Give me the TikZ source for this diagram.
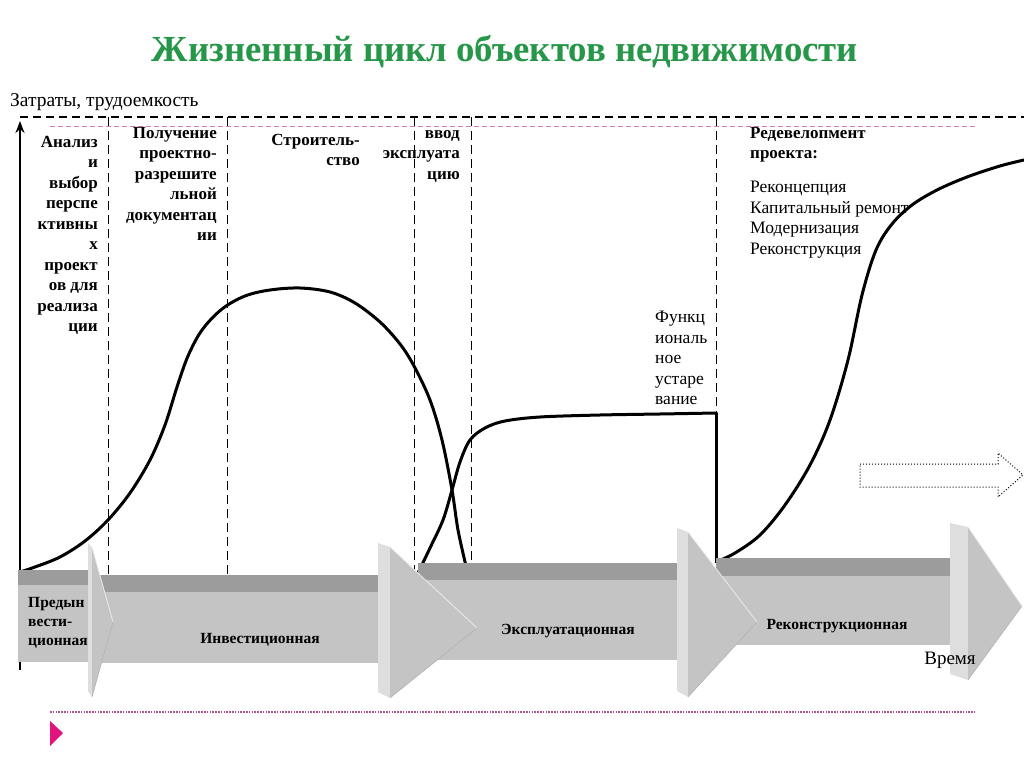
\documentclass[tikz,border=0pt]{standalone}
\usepackage{fontspec}
\setmainfont{Liberation Serif}
\usetikzlibrary{arrows.meta}
\definecolor{titlegreen}{RGB}{38,150,72}
\definecolor{pinkline}{RGB}{215,120,170}
\definecolor{pinkdot}{RGB}{175,85,135}
\definecolor{magentatri}{RGB}{225,20,125}
\definecolor{arrtop}{RGB}{156,156,156}
\definecolor{arrfront}{RGB}{196,196,196}
\definecolor{arrside}{RGB}{222,222,222}
% #1 xl, #2 yt, #3 yf, #4 yb, #5 xs, #6 w, #7 yht, #8 yhb, #9 tip
\newcommand\threedarrow[9]{%
  \fill[arrtop] (#1,#2) -- (#5,#2) -- ({#5+#6},#3) -- (#1,#3) -- cycle;
  \fill[arrfront] (#1,#3) rectangle ({#5+#6},#4);
  \fill[arrside] (#5,#7) -- ({#5+#6},{#7+4}) -- ({#5+#6},#8) -- (#5,{#8-6}) -- cycle;
  \fill[arrfront] ({#5+#6},{#7+4}) -- #9 -- ({#5+#6},#8) -- cycle;
  \draw[arrside!60!white, line width=0.8pt] ({#5+#6},{#7+4}) -- #9;
  \draw[arrtop!80!white, line width=0.5pt] #9 -- ({#5+#6},#8);
}
\begin{document}
\begin{tikzpicture}[x=1pt,y=-1pt,
  colhead/.style={font=\fontsize{17}{20.5}\selectfont\bfseries, align=right, inner sep=0pt},
  plaintxt/.style={font=\fontsize{17.5}{20.5}\selectfont, align=left, inner sep=0pt},
  arrlabel/.style={font=\fontsize{15.5}{19}\selectfont\bfseries, inner sep=0pt},
  vdash/.style={black, line width=1pt, dash pattern=on 9pt off 5pt},
  curve/.style={black, line width=3pt, line join=round, line cap=round}]
\useasboundingbox (0,0) rectangle (1024,767);
\fill[white] (0,0) rectangle (1024,767);

% title
\node[inner sep=0pt, text=titlegreen] (title) at (505,52)
  {\resizebox{706pt}{!}{\bfseries Жизненный цикл объектов недвижимости}};
\node[anchor=west, inner sep=0pt, font=\fontsize{19.5}{21}\selectfont] (ylabel) at (10,102)
  {Затраты, трудоемкость};

% horizontal guide lines
\draw[black, line width=1.3pt, dash pattern=on 8pt off 5pt] (20,117) -- (1024,117);
\draw[pinkline, line width=0.8pt, dash pattern=on 5pt off 3pt] (50,126) -- (975,126);

% vertical dashed separators
\draw[vdash] (108,117) -- (108,600);
\draw[vdash] (227,117) -- (227,600);
\draw[vdash] (414,117) -- (414,600);
\draw[vdash] (471,117) -- (471,600);
\draw[vdash] (716,117) -- (716,413);

% curves
\draw[curve] plot[smooth, tension=0.55] coordinates {(20,572) (35,567) (60,557) (85,541) (108,520) (130,493) (150,460) (165,425) (177,387) (188,356) (202,330) (222,309) (245,296) (270,290) (300,288) (330,292) (355,303) (380,322) (400,344) (414,366) (430,400) (442,440) (452,490) (458,530) (466,566)};
\draw[curve] plot[smooth, tension=0.55] coordinates {(418,573) (430,548) (443,520) (452,490) (460,462) (470,440) (485,428) (505,421) (540,417) (600,415) (660,414) (716,413)};
\draw[curve] (716,413) -- (716,562);
\draw[curve] plot[smooth, tension=0.55] coordinates {(716,562) (735,553) (760,535) (785,505) (810,465) (830,420) (848,360) (862,295) (876,250) (892,224) (912,205) (937,190) (967,177) (1000,166) (1024,160)};

% vertical axis
\draw[black, line width=2pt, -{Stealth[length=12pt,width=9pt]}] (20,670) -- (20,121);

% 3D stage arrows (back to front)
\threedarrow{716}{558}{576}{645}{950}{18}{523}{680}{(1022,606)}
\threedarrow{418}{563}{580}{660}{677}{11}{528}{697}{(757,622)}
\threedarrow{100}{575}{592}{663}{378}{12}{543}{698}{(477,628)}
\threedarrow{18}{570}{585}{662}{88}{4}{543}{697}{(113,622)}

% dotted outline arrow
\draw[black, line width=1pt, dotted, line join=miter] (860,464) -- (998,464) -- (998,453) -- (1023,475) -- (998,497) -- (998,487) -- (860,487) -- cycle;

% column headings
\node[colhead, anchor=north east] (c1) at (98,136)
  {Анализ\\и\\выбор\\перспе\\ктивны\\х\\проект\\ов для\\реализа\\ции};
\node[colhead, anchor=north east] (c2) at (217,127)
  {Получение\\проектно-\\разрешите\\льной\\документац\\ии};
\node[colhead, anchor=north east] (c3) at (360,134)
  {Строитель-\\ство};
\node[colhead, anchor=north east] (c4) at (460,130)
  {ввод\\эксплуата\\цию};
\node[colhead, align=left, anchor=north west] (c5) at (750,127)
  {Редевелопмент\\проекта:};
\node[plaintxt, anchor=north west] (c5list) at (750,181)
  {Реконцепция\\Капитальный ремонт\\Модернизация\\Реконструкция};
\node[plaintxt, anchor=north west] (obsol) at (655,311)
  {Функц\\иональ\\ное\\устаре\\вание};

% arrow labels
\node[arrlabel, align=left, anchor=north west] (a1) at (28,597) {Предын\\вести-\\ционная};
\node[arrlabel] (a2) at (260,640) {Инвестиционная};
\node[arrlabel] (a3) at (568,631) {Эксплуатационная};
\node[arrlabel] (a4) at (837,626) {Реконструкционная};
\node[inner sep=0pt, font=\fontsize{19}{21}\selectfont] (time) at (950,660) {Время};

% bottom decoration
\draw[pinkdot, line width=1.6pt, dash pattern=on 1.6pt off 1.2pt] (50,712) -- (975,712);
\fill[magentatri] (50,721) -- (63,733) -- (50,746) -- cycle;
\end{tikzpicture}
\end{document}
